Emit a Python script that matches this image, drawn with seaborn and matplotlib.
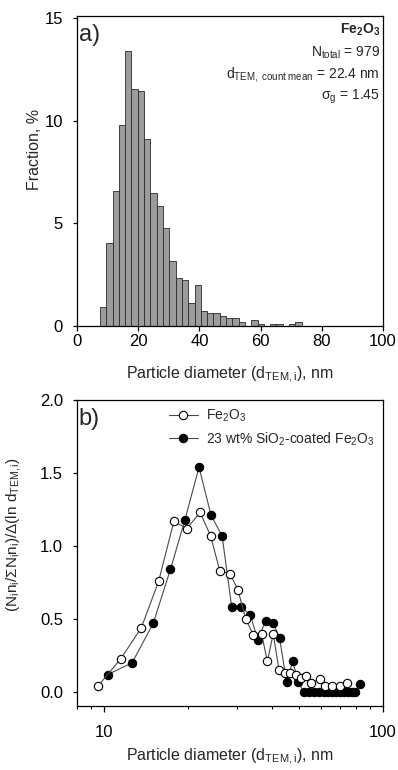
import numpy as np
import pandas as pd
import matplotlib
matplotlib.use("Agg")
import matplotlib.pyplot as plt
from matplotlib.ticker import FixedLocator, NullFormatter, LogLocator
import seaborn as sns

# ---------------- data ----------------
# (a) histogram: bin centres (nm) and fraction (%)
bin_centers = [8.53, 10.59, 12.65, 14.71, 16.77, 18.83, 20.89, 22.95, 25.01, 27.07,
               29.13, 31.19, 33.25, 35.31, 37.37, 39.43, 41.49, 43.55, 45.61, 47.67,
               49.73, 51.79, 53.85, 55.91, 57.97, 60.03, 62.09, 64.15, 66.21, 68.27,
               70.33, 72.39]
fraction_pct = [0.92, 4.06, 6.59, 9.81, 13.38, 11.56, 11.46, 9.11, 6.46, 5.84,
                4.76, 3.15, 2.35, 2.25, 1.12, 2.02, 0.72, 0.63, 0.61, 0.51,
                0.41, 0.41, 0.21, 0.0, 0.31, 0.11, 0.0, 0.11, 0.11, 0.0,
                0.11, 0.21]
bin_width = 2.06

# (b) normalised distributions (log x)
fe2o3_d = [9.5, 11.5, 13.6, 15.7, 17.8, 19.8, 22.1, 24.1, 26.0, 28.3,
           30.2, 32.2, 34.3, 36.7, 38.5, 40.4, 42.4, 44.4, 46.6, 48.7,
           51.0, 53.0, 55.3, 59.3, 62.0, 65.8, 70.0, 74.1]
fe2o3_y = [0.04, 0.23, 0.44, 0.76, 1.17, 1.12, 1.23, 1.07, 0.83, 0.81,
           0.70, 0.50, 0.39, 0.40, 0.21, 0.40, 0.15, 0.13, 0.13, 0.12,
           0.10, 0.11, 0.06, 0.09, 0.04, 0.04, 0.04, 0.06]

coated_d = [10.3, 12.6, 15.0, 17.3, 19.5, 21.9, 24.2, 26.5, 28.7, 31.1,
            33.4, 35.6, 38.0, 40.5, 42.6, 45.1, 47.5, 49.7, 52.0, 54.3,
            56.6, 58.9, 61.2, 63.5, 65.8, 68.1, 70.4, 72.7, 75.0, 77.3,
            79.6, 82.5]
coated_y = [0.12, 0.20, 0.47, 0.84, 1.18, 1.54, 1.21, 1.07, 0.58, 0.58,
            0.53, 0.36, 0.49, 0.47, 0.37, 0.07, 0.21, 0.07, 0.0, 0.0,
            0.0, 0.0, 0.0, 0.0, 0.0, 0.0, 0.0, 0.0, 0.0, 0.0,
            0.0, 0.055]

top_xticks = [0, 20, 40, 60, 80, 100]
top_yticks = [0, 5, 10, 15]
bot_yticks = [0.0, 0.5, 1.0, 1.5, 2.0]
bot_xticks = [10, 100]

# ---------------- style ----------------
sns.set_theme(style="ticks")
plt.rcParams["font.family"] = ["Liberation Sans", "DejaVu Sans"]
plt.rcParams["mathtext.fontset"] = "custom"
plt.rcParams["mathtext.rm"] = "Liberation Sans"
plt.rcParams["mathtext.it"] = "Liberation Sans:italic"
plt.rcParams["mathtext.bf"] = "Liberation Sans:bold"
plt.rcParams["mathtext.sf"] = "Liberation Sans"
plt.rcParams["mathtext.default"] = "regular"
plt.rcParams["axes.linewidth"] = 0.9
plt.rcParams["axes.edgecolor"] = "black"

W, H = 398, 770
fig = plt.figure(figsize=(W / 100, H / 100), dpi=100)
ax1 = fig.add_axes([77 / W, 1 - 326 / H, 306 / W, 310 / H])
ax2 = fig.add_axes([77 / W, 1 - 706 / H, 306 / W, 306 / H])

tick_fs = 12
lab_fs = 11.5
ann_fs = 10

# ---------------- panel a ----------------
df_a = pd.DataFrame({"d": bin_centers, "f": fraction_pct})
edges = [c - bin_width / 2 for c in bin_centers] + [bin_centers[-1] + bin_width / 2]
sns.histplot(data=df_a, x="d", weights="f", bins=edges, ax=ax1,
             color="#9c9c9c", edgecolor="#2a2a2a", linewidth=0.6, alpha=1.0)
ax1.set_xlim(0, 100)
ax1.set_ylim(0, 15.1)
ax1.set_xticks(top_xticks)
ax1.set_yticks(top_yticks)
ax1.tick_params(axis="x", direction="out", length=3.5, width=0.9, labelsize=tick_fs, pad=2.5, colors="black")
ax1.tick_params(axis="y", direction="out", length=3, width=0.9, labelsize=tick_fs, pad=7, colors="black")
ax1.set_xlabel(r"Particle diameter (d$_{TEM,i}$), nm", fontsize=lab_fs, labelpad=11)
ax1.set_ylabel("Fraction, %", fontsize=lab_fs)
ax1.yaxis.set_label_coords(-0.115, 0.57)
for s in ax1.spines.values():
    s.set_visible(True)
    s.set_color("black")

ax1.text(0.005, 0.975, "a)", transform=ax1.transAxes, ha="left", va="top", fontsize=17)
tx = 0.99
ax1.text(tx, 0.955, r"$\mathbf{Fe_2O_3}$", transform=ax1.transAxes, ha="right", va="center", fontsize=ann_fs)
ax1.text(tx, 0.882, r"N$_{total}$ = 979", transform=ax1.transAxes, ha="right", va="center", fontsize=ann_fs)
ax1.text(tx, 0.810, r"d$_{TEM,\ count\ mean}$ = 22.4 nm", transform=ax1.transAxes, ha="right", va="center", fontsize=ann_fs)
ax1.text(tx, 0.739, r"σ$_{g}$ = 1.45", transform=ax1.transAxes, ha="right", va="center", fontsize=ann_fs)

# ---------------- panel b ----------------
df_c = pd.DataFrame({"d": coated_d, "y": coated_y})
df_f = pd.DataFrame({"d": fe2o3_d, "y": fe2o3_y})
sns.lineplot(data=df_c, x="d", y="y", ax=ax2, estimator=None, sort=False,
             color="#4a4a4a", linewidth=0.8, marker="o", markersize=6,
             markerfacecolor="black", markeredgecolor="black", markeredgewidth=0.8,
             label=r"23 wt% SiO$_2$-coated Fe$_2$O$_3$")
sns.lineplot(data=df_f, x="d", y="y", ax=ax2, estimator=None, sort=False,
             color="#4a4a4a", linewidth=0.8, marker="o", markersize=6,
             markerfacecolor="white", markeredgecolor="black", markeredgewidth=0.8,
             label=r"Fe$_2$O$_3$")
ax2.set_xscale("log")
ax2.set_xlim(8, 100)
ax2.set_ylim(-0.095, 2.0)
ax2.xaxis.set_major_locator(FixedLocator(bot_xticks))
ax2.set_xticklabels([str(t) for t in bot_xticks])
ax2.xaxis.set_minor_locator(LogLocator(base=10, subs=np.arange(2, 10)))
ax2.xaxis.set_minor_formatter(NullFormatter())
ax2.set_yticks(bot_yticks)
ax2.set_yticklabels([f"{t:.1f}" for t in bot_yticks])
ax2.tick_params(axis="x", which="major", direction="out", length=4.5, width=0.9, labelsize=tick_fs, pad=9, colors="black")
ax2.tick_params(axis="x", which="minor", direction="out", length=2.5, width=0.8, colors="black")
ax2.tick_params(axis="y", direction="out", length=3, width=0.9, labelsize=tick_fs, pad=7, colors="black")
ax2.set_xlabel(r"Particle diameter (d$_{TEM,i}$), nm", fontsize=lab_fs, labelpad=5)
ax2.set_ylabel(r"(N$_i$n$_i$/ΣN$_i$n$_i$)/Δ(ln d$_{TEM,i}$)", fontsize=11)
ax2.yaxis.set_label_coords(-0.175, 0.56)
for s in ax2.spines.values():
    s.set_visible(True)
    s.set_color("black")

h, l = ax2.get_legend_handles_labels()
ax2.legend([h[1], h[0]], [l[1], l[0]], loc="upper left", bbox_to_anchor=(0.30, 0.975),
           frameon=False, fontsize=ann_fs, handlelength=2.1, handletextpad=0.6,
           labelspacing=0.45, borderaxespad=0, borderpad=0)
ax2.text(0.005, 0.975, "b)", transform=ax2.transAxes, ha="left", va="top", fontsize=17)

fig.savefig("out.png", dpi=100)
